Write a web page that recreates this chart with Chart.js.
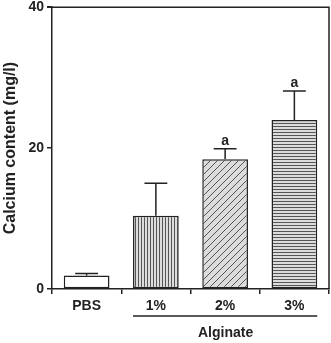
<!DOCTYPE html>
<html>
<head>
<meta charset="utf-8">
<script src="https://cdn.jsdelivr.net/npm/chart.js@4/dist/chart.umd.min.js"></script>
<style>
  html, body { margin: 0; padding: 0; background: #fff; }
  #wrap { width: 331px; height: 343px; }
</style>
</head>
<body>
<div id="wrap"><canvas id="c" width="331" height="343"></canvas></div>
<script>
// data
const categories = ['PBS', '1%', '2%', '3%'];
const means = [1.9, 10.4, 18.4, 24.0];
const errors = [0.3, 4.6, 1.5, 4.1];
const letters = ['', '', 'a', 'a'];
const groupLabel = 'Alginate';
const groupFrom = 1, groupTo = 3;

const INK = '#222';
const FONT = 'Liberation Sans, Arial, sans-serif';

// hatch fills
function makePattern(kind) {
    const c = document.createElement('canvas');
    const n = kind === 'diag' ? 7 : 3;
    c.width = n; c.height = n;
    const g = c.getContext('2d');
    g.fillStyle = kind === 'none' ? '#fff' : '#dcdcdc';
    g.fillRect(0, 0, n, n);
    g.strokeStyle = '#555';
    g.lineWidth = 1;
    g.beginPath();
    if (kind === 'vert') { g.moveTo(0.5, 0); g.lineTo(0.5, n); }
    if (kind === 'horiz') { g.moveTo(0, 0.5); g.lineTo(n, 0.5); }
    if (kind === 'diag') {
        g.moveTo(-1, n + 1); g.lineTo(n + 1, -1);
        g.moveTo(-1, 1); g.lineTo(1, -1);
        g.moveTo(n - 1, n + 1); g.lineTo(n + 1, n - 1);
    }
    g.stroke();
    return document.getElementById('c').getContext('2d').createPattern(c, 'repeat');
}
const fills = [makePattern('none'), makePattern('vert'), makePattern('diag'), makePattern('horiz')];

const extras = {
    id: 'extras',
    afterDatasetsDraw(chart) {
        const { ctx, chartArea, scales: { x, y } } = chart;
        const meta = chart.getDatasetMeta(0);
        ctx.save();
        ctx.strokeStyle = INK;
        ctx.fillStyle = INK;
        ctx.lineWidth = 1.5;
        // error bars (upper only)
        meta.data.forEach((bar, i) => {
            const top = y.getPixelForValue(means[i] + errors[i]);
            const half = bar.width * 0.25;
            ctx.beginPath();
            ctx.moveTo(bar.x, bar.y);
            ctx.lineTo(bar.x, top);
            ctx.moveTo(bar.x - half, top);
            ctx.lineTo(bar.x + half, top);
            ctx.stroke();
            if (letters[i]) {
                ctx.font = 'bold 14px ' + FONT;
                ctx.textAlign = 'center';
                ctx.textBaseline = 'alphabetic';
                ctx.fillText(letters[i], bar.x, top - 4);
            }
        });
        // frame top/right
        ctx.beginPath();
        ctx.moveTo(chartArea.left - 5, chartArea.top);
        ctx.lineTo(chartArea.right, chartArea.top);
        ctx.lineTo(chartArea.right, chartArea.bottom);
        ctx.stroke();
        // group bracket
        const b1 = meta.data[groupFrom], b2 = meta.data[groupTo];
        const ly = chartArea.bottom + 27;
        ctx.beginPath();
        ctx.moveTo(b1.x - b1.width / 2, ly);
        ctx.lineTo(b2.x + b2.width / 2, ly);
        ctx.stroke();
        ctx.font = 'bold 14px ' + FONT;
        ctx.textAlign = 'center';
        ctx.textBaseline = 'middle';
        ctx.fillText(groupLabel, (b1.x + b2.x) / 2 + 0.5, ly + 17);
        ctx.restore();
    }
};

new Chart(document.getElementById('c'), {
    type: 'bar',
    data: {
        labels: categories,
        datasets: [{
            data: means,
            backgroundColor: fills,
            borderColor: INK,
            borderWidth: 1.5,
            borderSkipped: false,
            barPercentage: 0.66,
            categoryPercentage: 1
        }]
    },
    options: {
        responsive: false,
        animation: false,
        devicePixelRatio: 1,
        layout: { padding: { top: 0, right: 2, left: 0, bottom: 0 } },
        plugins: { legend: { display: false }, tooltip: { enabled: false } },
        scales: {
            x: {
                grid: { display: true, drawOnChartArea: false, drawTicks: true, tickLength: 5, color: INK, lineWidth: 1.5 },
                border: { color: INK, width: 1.5 },
                ticks: { color: INK, font: { family: FONT, size: 14, weight: 'bold' }, padding: 4, maxRotation: 0 },
                afterFit: (s) => { s.height = 54; }
            },
            y: {
                min: 0, max: 40,
                grid: { display: true, drawOnChartArea: false, drawTicks: true, tickLength: 5, color: INK, lineWidth: 1.5 },
                border: { color: INK, width: 1.5 },
                ticks: { stepSize: 20, color: INK, font: { family: FONT, size: 14, weight: 'bold', lineHeight: 0.6 }, padding: 3 },
                title: { display: true, text: 'Calcium content (mg/l)', color: INK, font: { family: FONT, size: 16, weight: 'bold' }, padding: { top: 1, bottom: 2 } },
                afterFit: (s) => { s.width = 52; }
            }
        }
    },
    plugins: [extras]
});
</script>
</body>
</html>
